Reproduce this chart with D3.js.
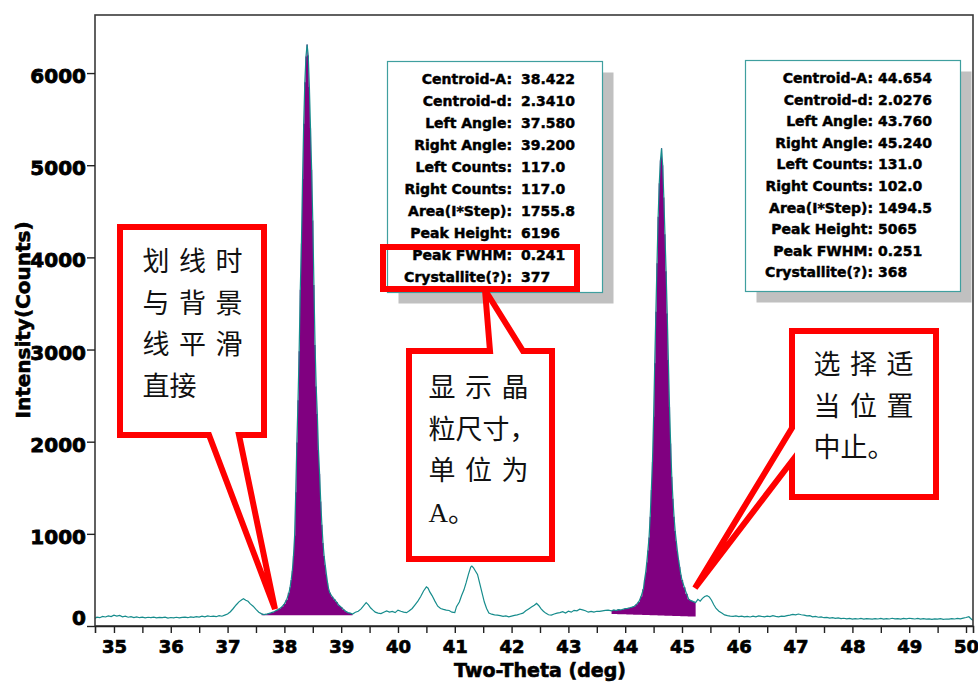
<!DOCTYPE html>
<html><head><meta charset="utf-8">
<script src="https://cdn.jsdelivr.net/npm/d3@7"></script>
<style>body{margin:0;background:#fff}svg{display:block}</style>
</head><body>
<svg id="chart" width="978" height="684"></svg>
<script>
// ---------- data ----------
const xTickValues = [35,36,37,38,39,40,41,42,43,44,45,46,47,48,49,50];
const yTickValues = [0,1000,2000,3000,4000,5000,6000];
const xTitle = "Two-Theta (deg)";
const yTitle = "Intensity(Counts)";

// scan: [two-theta, counts]
const scan = [
[34.66,82],[34.70,95],[34.75,90],[34.80,104],[34.85,98],[34.90,110],[34.95,102],[35.00,118],[35.05,108],[35.10,114],
[35.15,100],[35.20,106],[35.25,95],[35.30,102],[35.35,92],[35.40,99],[35.45,90],[35.50,96],[35.55,88],[35.60,95],
[35.65,91],[35.70,97],[35.75,88],[35.80,94],[35.85,90],[35.90,96],[35.95,86],[36.00,92],[36.05,89],[36.10,95],
[36.15,88],[36.20,93],[36.25,97],[36.30,90],[36.35,99],[36.40,94],[36.45,102],[36.50,96],[36.55,106],[36.60,100],
[36.65,110],[36.70,103],[36.75,108],[36.80,101],[36.85,112],[36.90,106],[36.95,118],[37.00,130],[37.05,155],[37.10,190],
[37.15,228],[37.20,262],[37.25,285],[37.28,296],[37.32,280],[37.36,268],[37.40,240],[37.45,215],[37.50,180],[37.55,150],
[37.60,132],[37.64,124],[37.68,128],[37.72,135],[37.76,142],[37.80,150],[37.84,162],[37.88,175],[37.92,190],[37.96,210],
[38.00,240],[38.04,285],[38.08,360],[38.10,420],[38.12,500],[38.14,600],[38.16,760],[38.18,980],[38.20,1450],[38.22,1990],
[38.24,2450],[38.26,2980],[38.28,3650],[38.30,4150],[38.32,4850],[38.34,5450],[38.36,5900],[38.38,6180],[38.40,6310],[38.42,6190],
[38.44,5850],[38.46,5400],[38.48,4950],[38.50,4400],[38.52,3700],[38.54,3050],[38.56,2600],[38.58,2300],[38.60,1910],[38.62,1650],
[38.64,1350],[38.66,1100],[38.68,900],[38.70,760],[38.72,660],[38.74,560],[38.76,470],[38.78,400],[38.80,360],[38.84,320],
[38.88,290],[38.92,260],[38.96,225],[39.00,205],[39.04,180],[39.08,160],[39.12,145],[39.16,140],[39.20,130],[39.25,150],
[39.30,160],[39.35,185],[39.40,225],[39.44,253],[39.48,230],[39.52,195],[39.56,172],[39.60,150],[39.65,140],[39.70,135],
[39.75,150],[39.80,163],[39.85,150],[39.90,158],[39.95,145],[40.00,172],[40.05,160],[40.10,150],[40.15,145],[40.20,165],
[40.25,190],[40.30,230],[40.35,270],[40.40,320],[40.45,380],[40.50,425],[40.53,410],[40.56,370],[40.60,330],[40.65,270],
[40.70,215],[40.75,190],[40.80,180],[40.85,172],[40.90,168],[40.95,150],[41.00,145],[41.03,210],[41.08,260],[41.12,330],
[41.16,390],[41.20,470],[41.24,560],[41.28,640],[41.30,651],[41.33,630],[41.36,600],[41.40,560],[41.44,460],[41.48,360],
[41.52,260],[41.56,190],[41.60,140],[41.65,128],[41.70,120],[41.75,118],[41.80,112],[41.85,105],[41.90,110],[41.95,100],
[42.00,108],[42.05,115],[42.10,120],[42.15,130],[42.20,140],[42.25,165],[42.30,185],[42.35,205],[42.40,225],[42.44,245],
[42.48,220],[42.52,185],[42.56,160],[42.60,140],[42.65,122],[42.70,118],[42.75,130],[42.80,140],[42.85,145],[42.90,155],
[42.95,140],[43.00,160],[43.05,150],[43.10,170],[43.15,165],[43.20,182],[43.25,175],[43.30,165],[43.35,150],[43.40,158],
[43.45,150],[43.50,160],[43.55,158],[43.60,165],[43.65,170],[43.70,172],[43.76,165],[43.80,174],[43.84,168],[43.88,178],
[43.92,174],[43.96,182],[44.00,188],[44.04,192],[44.08,198],[44.12,205],[44.16,215],[44.20,235],[44.24,264],[44.28,320],
[44.32,400],[44.34,499],[44.36,580],[44.38,690],[44.40,820],[44.42,960],[44.44,1186],[44.46,1476],[44.48,1783],[44.50,2271],
[44.52,2850],[44.54,3410],[44.56,3935],[44.58,4441],[44.60,4803],[44.62,5050],[44.64,5183],[44.66,5000],[44.68,4650],[44.70,4250],
[44.72,3850],[44.74,3392],[44.76,2886],[44.78,2380],[44.80,1980],[44.82,1620],[44.84,1380],[44.86,1186],[44.88,1030],[44.90,920],
[44.92,810],[44.94,716],[44.96,640],[44.98,560],[45.00,499],[45.04,420],[45.08,350],[45.12,289],[45.16,275],[45.20,264],
[45.24,255],[45.28,289],[45.32,270],[45.36,300],[45.40,320],[45.44,330],[45.48,315],[45.52,280],[45.56,230],[45.60,190],
[45.65,160],[45.70,140],[45.75,120],[45.80,112],[45.85,108],[45.90,105],[45.95,110],[46.00,102],[46.05,108],[46.10,100],
[46.15,104],[46.20,98],[46.25,106],[46.30,100],[46.35,110],[46.40,104],[46.45,100],[46.50,108],[46.55,102],[46.60,112],
[46.65,105],[46.70,100],[46.75,108],[46.80,104],[46.85,112],[46.90,118],[46.95,125],[47.00,120],[47.05,130],[47.10,122],
[47.15,118],[47.20,110],[47.25,112],[47.30,100],[47.35,104],[47.40,95],[47.45,98],[47.50,90],[47.55,94],[47.60,85],
[47.65,90],[47.70,82],[47.75,88],[47.80,80],[47.85,84],[47.90,78],[47.95,82],[48.00,74],[48.05,80],[48.10,76],
[48.15,82],[48.20,75],[48.25,80],[48.30,78],[48.35,74],[48.40,80],[48.45,76],[48.50,82],[48.55,75],[48.60,80],
[48.65,76],[48.70,84],[48.75,78],[48.80,80],[48.85,74],[48.90,82],[48.95,78],[49.00,84],[49.05,80],[49.10,76],
[49.15,82],[49.20,75],[49.25,80],[49.30,74],[49.35,78],[49.40,72],[49.45,78],[49.50,74],[49.55,80],[49.60,72],
[49.65,76],[49.70,74],[49.75,80],[49.80,76],[49.85,82],[49.90,78],[49.95,86],[50.00,92],[50.05,100],[50.10,70],[50.14,60]
];

const statLabels = ["Centroid-A:","Centroid-d:","Left Angle:","Right Angle:","Left Counts:","Right Counts:","Area(I*Step):","Peak Height:","Peak FWHM:","Crystallite(?):"];
const peak1Stats = ["38.422","2.3410","37.580","39.200","117.0","117.0","1755.8","6196","0.241","377"];
const peak2Stats = ["44.654","2.0276","43.760","45.240","131.0","102.0","1494.5","5065","0.251","368"];

// callout text lines: [text, spaced]
const note1 = [["划线时",true],["与背景",true],["线平滑",true],["直接",false]];
const note2 = [["显示晶",true],["粒尺寸，",false],["单位为",true],["A。",false]];
const note3 = [["选择适",true],["当位置",true],["中止。",false]];

// ---------- drawing ----------
const svg = d3.select("#chart");
const L = 95, R = 973, T = 15, B = 626;
const x = d3.scaleLinear().domain([34.666, 50.123]).range([L, R]);
const y = d3.scaleLinear().domain([0, 6630]).range([B, T]);

const bold = "'DejaVu Sans', sans-serif";
const teal = "#168c8c";

svg.append("defs").append("clipPath").attr("id","plotclip")
  .append("rect").attr("x",L).attr("y",T).attr("width",R-L).attr("height",B-T);

const plot = svg.append("g").attr("clip-path","url(#plotclip)");

// integrated peak fills
function drawFill(stats){
  const la = +stats[2], ra = +stats[3], lc = +stats[4], rc = +stats[5];
  const bg = d3.scaleLinear().domain([la, ra]).range([lc, rc]);
  const pts = scan.filter(d => d[0] >= la - 1e-9 && d[0] <= ra + 1e-9);
  plot.append("path").datum(pts)
    .attr("fill","#800080")
    .attr("d", d3.area().curve(d3.curveStep)
      .x(d => x(d[0]))
      .y0(d => y(bg(d[0])))
      .y1(d => y(Math.max(d[1], bg(d[0])))));
}
drawFill(peak1Stats);
drawFill(peak2Stats);

plot.append("path").datum(scan)
  .attr("fill","none").attr("stroke",teal).attr("stroke-width",1.2)
  .attr("d", d3.line().x(d => x(d[0])).y(d => y(d[1])));

// frame
svg.append("rect").attr("x",L).attr("y",T).attr("width",R-L).attr("height",B-T)
  .attr("fill","none").attr("stroke","#3a3a3a").attr("stroke-width",1.6);

function heavy(sel, w){
  sel.attr("font-family",bold).attr("font-weight","bold").attr("fill","#000")
     .attr("stroke","#000").attr("stroke-width",w).attr("paint-order","stroke");
}

// axes
const halfTicks = [];
xTickValues.forEach(v => { halfTicks.push(v - 0.5); halfTicks.push(v); });
const xAxis = svg.append("g").attr("transform",`translate(0,${B})`)
  .call(d3.axisBottom(x).tickValues(halfTicks.filter(v => v > 34.666))
    .tickSize(7).tickFormat(v => Number.isInteger(v) ? String(v) : ""));
xAxis.select(".domain").attr("stroke","#222").attr("stroke-width",1.6);
xAxis.selectAll(".tick line").attr("stroke","#222").attr("stroke-width",1.4);
heavy(xAxis.selectAll(".tick text").attr("y",14).attr("font-size",18), 0.7);

const yAxis = svg.append("g").attr("transform",`translate(${L},0)`)
  .call(d3.axisLeft(y).tickValues(yTickValues).tickSize(8).tickPadding(1).tickFormat(d3.format("d")));
yAxis.select(".domain").remove();
yAxis.selectAll(".tick line").attr("stroke","#222").attr("stroke-width",1.4);
heavy(yAxis.selectAll(".tick text").attr("font-size",20)
  .attr("dy", d => d === 0 ? "-0.08em" : "0.48em"), 0.8);

heavy(svg.append("text").attr("x",(x(35)+x(50))/2).attr("y",677).attr("text-anchor","middle")
  .attr("font-size",19).text(xTitle), 0.6);
heavy(svg.append("text").attr("transform","translate(30,320) rotate(-90)").attr("text-anchor","middle")
  .attr("font-size",20).text(yTitle), 0.6);

// info boxes
function infoBox(bx, by, w, h, labelX, valueX, base0, step, vals){
  const g = svg.append("g");
  g.append("rect").attr("x",bx+11).attr("y",by+11).attr("width",w).attr("height",h).attr("fill","#c0c0c0");
  g.append("rect").attr("x",bx).attr("y",by).attr("width",w).attr("height",h)
    .attr("fill","#fff").attr("stroke","#3f9f9f").attr("stroke-width",1.2);
  statLabels.forEach((s,i) => {
    heavy(g.append("text").attr("x",labelX).attr("y",base0 + i*step).attr("text-anchor","end")
      .attr("font-size",14).text(s), 0.45);
    heavy(g.append("text").attr("x",valueX).attr("y",base0 + i*step)
      .attr("font-size",14).text(vals[i]), 0.45);
  });
}
infoBox(387.5, 61.5, 215, 231, 512, 521, 83.5, 22, peak1Stats);
infoBox(745.5, 60.5, 215, 231, 873, 878, 83, 21.6, peak2Stats);

// callouts
const red = "#ff0000";
function callout(pathD, lines, tx, ty0, tstep){
  const g = svg.append("g");
  g.append("path").attr("d",pathD).attr("fill","#fff").attr("stroke",red)
    .attr("stroke-width",6).attr("stroke-linejoin","miter").attr("stroke-miterlimit",4);
  lines.forEach((ln,i) => {
    g.append("text").attr("x",tx).attr("y",ty0 + i*tstep)
      .attr("dominant-baseline","central")
      .attr("font-family","'Liberation Serif','Noto Sans CJK SC',serif")
      .attr("font-size",27).attr("fill","#111")
      .attr("letter-spacing", ln[1] ? 9.5 : 0)
      .text(ln[0]);
  });
}
callout("M120,227 H264 V435 H239 L275,609 L209,435 H120 Z", note1, 142.5, 262, 41.7);
callout("M409,351 H490 L485,290 L523,351 H552 V559 H409 Z", note2, 428.5, 388, 41.5);
callout("M792,331 H936 V497 H792 V461 L695,588 L792,428 Z", note3, 813.5, 365, 41.5);

// crystallite highlight
svg.append("rect").attr("x",383).attr("y",247).attr("width",194).attr("height",42)
  .attr("fill","none").attr("stroke",red).attr("stroke-width",6);
</script>
</body></html>
